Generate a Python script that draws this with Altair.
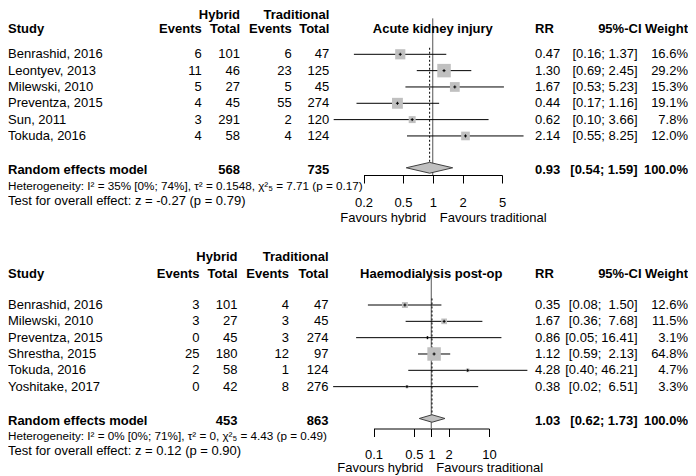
import altair as alt
import pandas as pd

FONT = "Liberation Sans"
FS = 13
STEP = 16.33

# ---------------- Panel 1: Acute kidney injury ----------------
aki_title = "Acute kidney injury"
aki_study = ["Benrashid, 2016", "Leontyev, 2013", "Milewski, 2010", "Preventza, 2015", "Sun, 2011", "Tokuda, 2016"]
aki_ev_h = [6, 11, 5, 4, 3, 4]
aki_n_h = [101, 46, 27, 45, 291, 58]
aki_ev_t = [6, 23, 5, 55, 2, 4]
aki_n_t = [47, 125, 45, 274, 120, 124]
aki_rr = [0.47, 1.30, 1.67, 0.44, 0.62, 2.14]
aki_lo = [0.16, 0.69, 0.53, 0.17, 0.10, 0.55]
aki_hi = [1.37, 2.45, 5.23, 1.16, 3.66, 8.25]
aki_w = [16.6, 29.2, 15.3, 19.1, 7.8, 12.0]
aki_pooled = [0.93, 0.54, 1.59]
aki_tot = [568, 735]
aki_het = "Heterogeneity: I² = 35% [0%; 74%], τ² = 0.1548, χ²₅ = 7.71 (p = 0.17)"
aki_test = "Test for overall effect: z = -0.27 (p = 0.79)"
aki_ticks = [0.2, 0.5, 1, 2, 5]

# ---------------- Panel 2: Haemodialysis post-op ----------------
hd_title = "Haemodialysis post-op"
hd_study = ["Benrashid, 2016", "Milewski, 2010", "Preventza, 2015", "Shrestha, 2015", "Tokuda, 2016", "Yoshitake, 2017"]
hd_ev_h = [3, 3, 0, 25, 2, 0]
hd_n_h = [101, 27, 45, 180, 58, 42]
hd_ev_t = [4, 3, 3, 12, 1, 8]
hd_n_t = [47, 45, 274, 97, 124, 276]
hd_rr = [0.35, 1.67, 0.86, 1.12, 4.28, 0.38]
hd_lo = [0.08, 0.36, 0.05, 0.59, 0.40, 0.02]
hd_hi = [1.50, 7.68, 16.41, 2.13, 46.21, 6.51]
hd_w = [12.6, 11.5, 3.1, 64.8, 4.7, 3.3]
hd_pooled = [1.03, 0.62, 1.73]
hd_tot = [453, 863]
hd_het = "Heterogeneity: I² = 0% [0%; 71%], τ² = 0, χ²₅ = 4.43 (p = 0.49)"
hd_test = "Test for overall effect: z = 0.12 (p = 0.90)"
hd_ticks = [0.1, 0.5, 1, 2, 10]


def fmt_ci(l, h, width):
    hs = f"{h:.2f}"
    pad = "\u00a0" * (width - len(hs))
    return f"[{l:.2f}; {pad}{hs}]"


def panel(title, study, ev_h, n_h, ev_t, n_t, rr, lo, hi, w, pooled, tot, het, test, ticks, cfg):
    H = cfg["H"]
    y0 = cfg["y0"]
    cw = max(len(f"{v:.2f}") for v in hi)
    df = pd.DataFrame({
        "study": study,
        "ev_h": [str(v) for v in ev_h],
        "n_h": [str(v) for v in n_h],
        "ev_t": [str(v) for v in ev_t],
        "n_t": [str(v) for v in n_t],
        "rr": rr, "lo": lo, "hi": hi, "w": w,
        "rr_s": [f"{v:.2f}" for v in rr],
        "ci_s": [fmt_ci(l, h, cw) for l, h in zip(lo, hi)],
        "w_s": [f"{v:.1f}%" for v in w],
        "r": list(range(len(study))),
    })
    r_sum_txt = 7.08
    r_dia = 6.95
    dh = cfg["dh"]
    summ = pd.DataFrame({
        "label": ["Random effects model"],
        "n_h": [str(tot[0])], "n_t": [str(tot[1])],
        "rr_s": [f"{pooled[0]:.2f}"],
        "ci_s": [f"[{pooled[1]:.2f}; {pooled[2]:.2f}]"],
        "w_s": ["100.0%"],
        "r": [r_sum_txt],
    })
    dia = pd.DataFrame({
        "x": [pooled[1], pooled[0], pooled[2]],
        "ya": [r_dia, r_dia - dh, r_dia],
        "yb": [r_dia, r_dia + dh, r_dia],
    })

    yscale = alt.Scale(domain=[0, 10], range=[y0, y0 + 10 * STEP], nice=False, zero=False)
    xscale = alt.Scale(type="log", domain=[ticks[0], ticks[-1]], range=cfg["xr"], nice=False)
    xaxis = alt.Axis(values=ticks, format="~g", tickSize=8, labelPadding=cfg["lp"],
                     domainColor="black", tickColor="black", labelColor="black",
                     labelFont=FONT, labelFontSize=FS, title=None, grid=False,
                     labelFlush=False, labelOverlap=False, domainWidth=1, tickWidth=1,
                     orient="bottom")

    def Y(field):
        return alt.Y(field, type="quantitative", scale=yscale, axis=None)

    def Yd(v):
        return alt.Y(datum=v, type="quantitative", scale=yscale, axis=None)

    def txt(data, field, x, align, bold=False):
        return alt.Chart(data).mark_text(
            x=x, align=align, baseline="middle", font=FONT, fontSize=FS,
            fontWeight="bold" if bold else "normal", color="black"
        ).encode(y=Y("r"), text=alt.Text(f"{field}:N"))

    def const_txt(text, r, x, align, bold=True, size=FS):
        return alt.Chart(pd.DataFrame({"r": [r]})).mark_text(
            text=text, x=x, align=align, baseline="middle", font=FONT, fontSize=size,
            fontWeight="bold" if bold else "normal", color="black"
        ).encode(y=Y("r"))

    one = pd.DataFrame({"v": [1.0]})
    est = pd.DataFrame({"v": [pooled[0]]})

    layers = []
    # reference line at 1 (solid) and dotted line at pooled estimate
    layers.append(alt.Chart(one).mark_rule(color="#555555", strokeWidth=1).encode(
        x=alt.X("v:Q", scale=xscale, axis=xaxis), y=Yd(-2.2), y2=alt.value(H)))
    layers.append(alt.Chart(est).mark_rule(color="black", strokeWidth=1, strokeDash=[2, 2]).encode(
        x=alt.X("v:Q", scale=xscale), y=Yd(-0.4), y2=alt.Y2(datum=r_dia - dh)))
    # CI lines
    layers.append(alt.Chart(df).mark_rule(color="black", strokeWidth=1).encode(
        x=alt.X("lo:Q", scale=xscale), x2="hi:Q", y=Y("r")))
    # weighted squares
    layers.append(alt.Chart(df).mark_square(color="#c0c0c0", opacity=1).encode(
        x=alt.X("rr:Q", scale=xscale), y=Y("r"),
        size=alt.Size("w:Q", scale=alt.Scale(type="linear", domain=[0, max(w)], range=[0, 182]),
                      legend=None)))
    # point estimate marker
    layers.append(alt.Chart(df).mark_point(shape="M-1,0H1M0,-1V1", size=9, filled=False,
                                           color="black", strokeWidth=1, opacity=1).encode(
        x=alt.X("rr:Q", scale=xscale), y=Y("r")))
    # diamond
    layers.append(alt.Chart(dia).mark_area(color="#c0c0c0", stroke="#404040", strokeWidth=1,
                                           opacity=1, fillOpacity=1).encode(
        x=alt.X("x:Q", scale=xscale), y=Y("ya"), y2="yb:Q"))

    cx = cfg["cols"]
    # headers
    layers += [
        const_txt("Hybrid", cfg["rh1"], cx[1], "right"),
        const_txt("Traditional", cfg["rh1"], cx[3], "right"),
        const_txt("Study", cfg["rh2"], 0, "left"),
        const_txt("Events", cfg["rh2"], cx[0], "right"),
        const_txt("Total", cfg["rh2"], cx[1], "right"),
        const_txt("Events", cfg["rh2"], cx[2], "right"),
        const_txt("Total", cfg["rh2"], cx[3], "right"),
        const_txt("RR", cfg["rh2"], 527, "left"),
        const_txt("95%-CI", cfg["rh2"], 633.5, "right"),
        const_txt("Weight", cfg["rh2"], 680, "right"),
    ]
    layers.append(alt.Chart(pd.DataFrame({"r": [cfg["rh2"]], "v": [1.0]})).mark_text(
        text=title, align="center", baseline="middle", font=FONT, fontSize=FS,
        fontWeight="bold", color="black").encode(x=alt.X("v:Q", scale=xscale), y=Y("r")))
    # study rows
    layers += [
        txt(df, "study", 0, "left"),
        txt(df, "ev_h", cx[0], "right"),
        txt(df, "n_h", cx[1], "right"),
        txt(df, "ev_t", cx[2], "right"),
        txt(df, "n_t", cx[3], "right"),
        txt(df, "rr_s", 527, "left"),
        txt(df, "ci_s", 629.5, "right"),
        txt(df, "w_s", 680, "right"),
    ]
    # summary row
    layers += [
        txt(summ, "label", 0, "left", True),
        txt(summ, "n_h", cx[1], "right", True),
        txt(summ, "n_t", cx[3], "right", True),
        txt(summ, "rr_s", 527, "left", True),
        txt(summ, "ci_s", 629.5, "right", True),
        txt(summ, "w_s", 680, "right", True),
    ]
    # footer texts
    layers += [
        const_txt(het, 8.05, 0, "left", False, 11.7),
        const_txt(test, 8.96, 0, "left", False),
    ]
    fav = pd.DataFrame({"r": [10.0], "v": [1.0]})
    layers.append(alt.Chart(fav).mark_text(
        text="Favours hybrid", align="right", baseline="middle", dx=cfg["fdx"][0],
        font=FONT, fontSize=FS, color="black").encode(x=alt.X("v:Q", scale=xscale), y=Y("r")))
    layers.append(alt.Chart(fav).mark_text(
        text="Favours traditional", align="left", baseline="middle", dx=cfg["fdx"][1],
        font=FONT, fontSize=FS, color="black").encode(x=alt.X("v:Q", scale=xscale), y=Y("r")))

    return alt.layer(*layers).properties(width=680, height=H)


top = panel(aki_title, aki_study, aki_ev_h, aki_n_h, aki_ev_t, aki_n_t, aki_rr, aki_lo, aki_hi,
            aki_w, aki_pooled, aki_tot, aki_het, aki_test, aki_ticks,
            {"H": 166, "y0": 45.3, "xr": [355.5, 494.0], "lp": 13.3, "dh": 0.33,
             "rh1": -2.437, "rh2": -1.519, "cols": [193.7, 232, 283.7, 321.3], "fdx": [-6.5, 7]})
bottom = panel(hd_title, hd_study, hd_ev_h, hd_n_h, hd_ev_t, hd_n_t, hd_rr, hd_lo, hd_hi,
               hd_w, hd_pooled, hd_tot, hd_het, hd_test, hd_ticks,
               {"H": 169, "y0": 45.5, "xr": [365.5, 481.0], "lp": 11.6, "dh": 0.23,
                "rh1": -2.94, "rh2": -1.92, "cols": [191.5, 229.5, 281, 320.5], "fdx": [-8, 5]})

chart = alt.vconcat(top, bottom, spacing=84.5, bounds="flush").resolve_scale(
    x="independent", y="independent", size="independent"
).properties(
    padding=0
).configure_view(stroke=None)

chart.save("out.html", embed_options={"renderer": "svg", "actions": False})
